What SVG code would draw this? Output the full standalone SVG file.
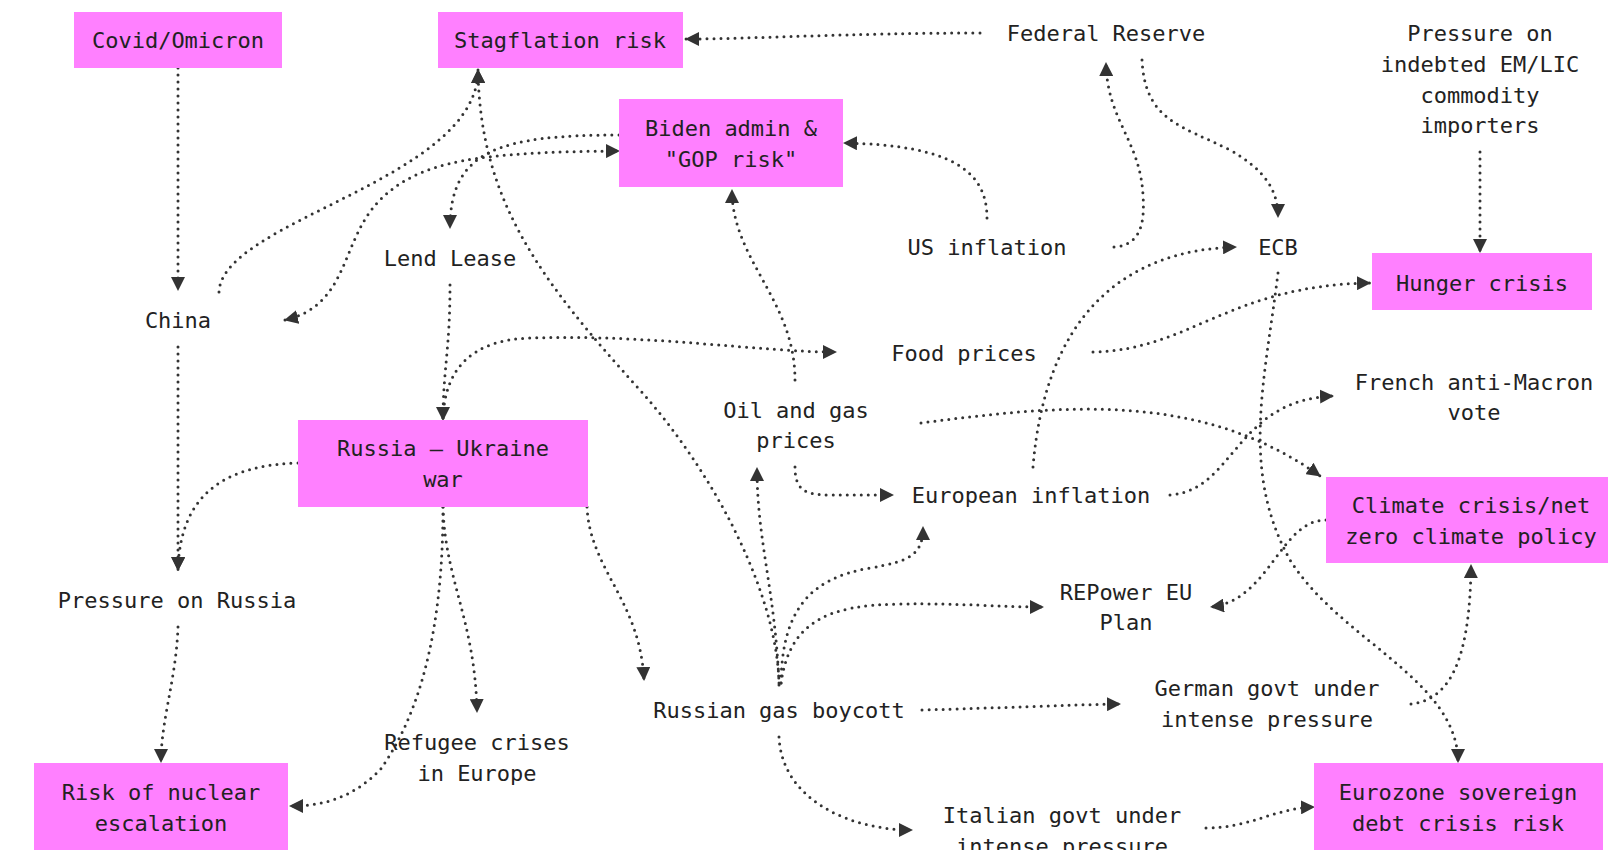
<svg xmlns="http://www.w3.org/2000/svg" width="1608" height="850" viewBox="0 0 1608 850">
<style>
.box{fill:#ff80ff}
text{font-family:"DejaVu Sans Mono","Liberation Mono",monospace;font-size:22px;fill:#222;text-anchor:middle}
.e{fill:none;stroke:#333;stroke-width:3;stroke-dasharray:0 7;stroke-linecap:round;marker-end:url(#ah)}
.n{fill:none;stroke:#333;stroke-width:3;stroke-dasharray:0 7;stroke-linecap:round}
</style>
<defs>
<marker id="ah" viewBox="0 0 14 14" refX="13" refY="7" markerWidth="14" markerHeight="14" markerUnits="userSpaceOnUse" orient="auto-start-reverse">
<path d="M0,0 L14,7 L0,14 z" fill="#333"/>
</marker>
</defs>
<rect width="1608" height="850" fill="#fff"/>
<g id="connectors">
<path class="e" d="M178,68 L178,290"/>
<path class="e" d="M178,347 L178,570"/>
<path class="e" d="M178,627 C176,680 161,720 161,762"/>
<path class="e" d="M298,463 C230,465 180,490 178,570"/>
<path class="e" d="M219,292 C222,220 478,180 478,70"/>
<path class="e" style="marker-start:url(#ah)" d="M285,320 C350,305 340,240 380,200 C420,160 480,152 619,151"/>
<path class="e" d="M619,135 C500,135 450,150 450,228"/>
<path class="e" d="M779,685 C778,600 720,480 640,390 C540,280 480,200 478,70"/>
<path class="e" d="M980,33 C850,33 750,39 686,39"/>
<path class="e" d="M1114,247 C1140,245 1145,225 1143,195 C1140,140 1107,120 1106,63"/>
<path class="e" d="M1142,60 C1145,120 1180,125 1230,150 C1265,170 1278,190 1278,217"/>
<path class="e" d="M987,218 C987,170 950,145 844,143"/>
<path class="e" d="M795,380 C795,300 732,260 732,190"/>
<path class="e" d="M1480,152 L1480,252"/>
<path class="e" d="M1093,352 C1190,350 1230,285 1370,283"/>
<path class="e" d="M1033,467 C1045,320 1120,250 1236,247"/>
<path class="e" d="M1278,273 C1265,380 1240,470 1290,560 C1340,640 1458,680 1458,762"/>
<path class="e" d="M450,285 C450,350 443,370 443,420"/>
<path class="e" d="M443,418 C445,370 470,340 530,338 C650,334 760,352 836,352"/>
<path class="e" d="M443,507 C443,600 430,700 380,770 C350,800 320,806 290,806"/>
<path class="e" d="M443,507 C445,580 475,620 477,712"/>
<path class="e" d="M587,507 C590,570 640,600 644,680"/>
<path class="e" d="M779,683 C775,590 757,540 757,468"/>
<path class="e" d="M781,683 C782,610 810,578 870,568 C910,561 923,555 923,527"/>
<path class="e" d="M781,683 C790,620 830,605 900,604 C960,603 1000,607 1043,607"/>
<path class="e" d="M922,710 C1000,708 1060,705 1120,704"/>
<path class="e" d="M779,737 C782,800 850,830 912,830"/>
<path class="e" d="M1206,828 C1250,828 1275,808 1314,807"/>
<path class="e" d="M1411,704 C1445,700 1470,670 1471,565"/>
<path class="e" d="M1326,520 C1280,520 1270,600 1211,607"/>
<path class="e" d="M1170,495 C1235,490 1235,400 1333,396"/>
<path class="e" d="M921,423 C1060,405 1200,390 1320,476"/>
<path class="e" d="M795,467 C795,490 805,495 830,495 L893,495"/>
</g>
<g id="covid"><rect class="box" x="74" y="12" width="208" height="56"/><text x="178" y="48">Covid/Omicron</text></g>
<g id="stagflation"><rect class="box" x="438" y="12" width="245" height="56"/><text x="560" y="48">Stagflation risk</text></g>
<g id="biden"><rect class="box" x="619" y="99" width="224" height="88"/><text x="731" y="136">Biden admin &amp;</text><text x="731" y="167">"GOP risk"</text></g>
<g id="hunger"><rect class="box" x="1372" y="253" width="220" height="57"/><text x="1482" y="291">Hunger crisis</text></g>
<g id="russia-ukraine"><rect class="box" x="298" y="420" width="290" height="87"/><text x="443" y="456">Russia – Ukraine</text><text x="443" y="487">war</text></g>
<g id="nuclear"><rect class="box" x="34" y="763" width="254" height="92"/><text x="161" y="800">Risk of nuclear</text><text x="161" y="831">escalation</text></g>
<g id="climate"><rect class="box" x="1326" y="477" width="290" height="86"/><text x="1471" y="513">Climate crisis/net</text><text x="1471" y="544">zero climate policy</text></g>
<g id="eurozone"><rect class="box" x="1314" y="763" width="289" height="92"/><text x="1458" y="800">Eurozone sovereign</text><text x="1458" y="831">debt crisis risk</text></g>
<g id="fed"><text x="1106" y="41">Federal Reserve</text></g>
<g id="em-pressure"><text x="1480" y="41">Pressure on</text><text x="1480" y="72">indebted EM/LIC</text><text x="1480" y="103">commodity</text><text x="1480" y="133">importers</text></g>
<g id="china"><text x="178" y="328">China</text></g>
<g id="lend-lease"><text x="450" y="266">Lend Lease</text></g>
<g id="us-inflation"><text x="987" y="255">US inflation</text></g>
<g id="ecb"><text x="1278" y="255">ECB</text></g>
<g id="food"><text x="964" y="361">Food prices</text></g>
<g id="french"><text x="1474" y="390">French anti-Macron</text><text x="1474" y="420">vote</text></g>
<g id="oil-gas"><text x="796" y="418">Oil and gas</text><text x="796" y="448">prices</text></g>
<g id="eu-inflation"><text x="1031" y="503">European inflation</text></g>
<g id="pressure-russia"><text x="177" y="608">Pressure on Russia</text></g>
<g id="repower"><text x="1126" y="600">REPower EU</text><text x="1126" y="630">Plan</text></g>
<g id="refugee"><text x="477" y="750">Refugee crises</text><text x="477" y="781">in Europe</text></g>
<g id="boycott"><text x="779" y="718">Russian gas boycott</text></g>
<g id="german"><text x="1267" y="696">German govt under</text><text x="1267" y="727">intense pressure</text></g>
<g id="italian"><text x="1062" y="823">Italian govt under</text><text x="1062" y="854">intense pressure</text></g>
</svg>
